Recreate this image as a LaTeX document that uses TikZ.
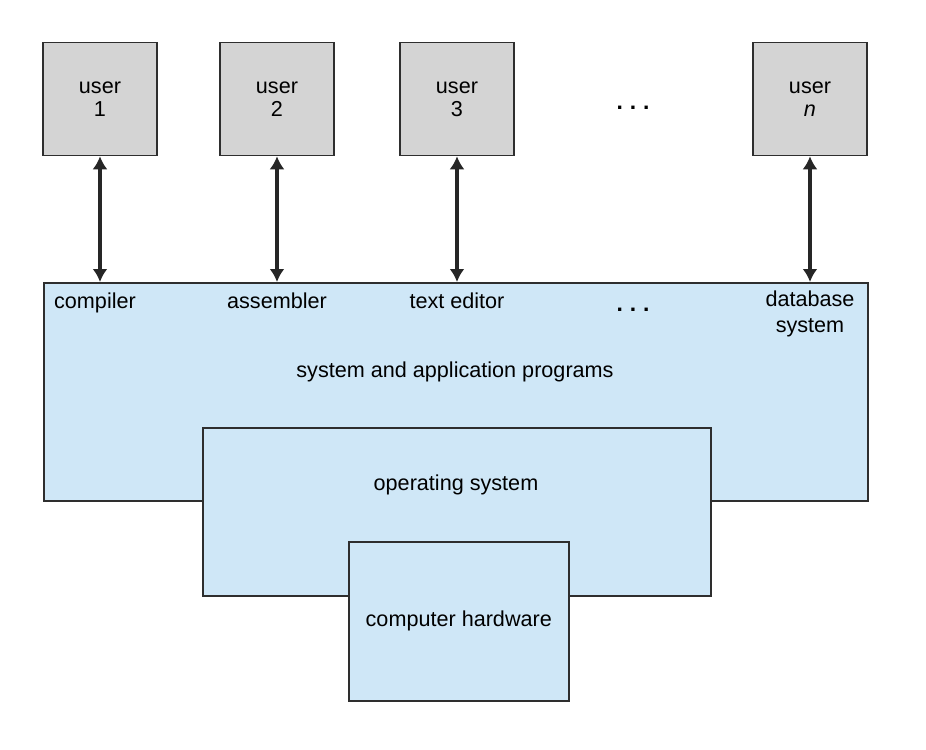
\documentclass[tikz,border=0pt]{standalone}
\usepackage{fontspec}
\setmainfont{Liberation Sans}
\usetikzlibrary{arrows.meta,positioning}
\definecolor{usergray}{HTML}{D4D4D4}
\definecolor{layerblue}{HTML}{CFE7F7}
\definecolor{edgeline}{HTML}{2E2E2E}
\tikzset{
  ubox/.style={draw=edgeline,fill=usergray,line width=0.9pt,minimum width=2.28cm,minimum height=2.26cm,align=center,inner sep=0pt,font=\fontsize{12.3}{13.2}\selectfont},
  lbox/.style={draw=edgeline,fill=layerblue,line width=0.9pt,align=center,inner sep=0pt},
  ltext/.style={align=center,inner sep=0pt},
  udots/.style={inner sep=0pt,font=\fontsize{13}{14.5}\selectfont\bfseries},
  uarr/.style={{Latex[length=2.6mm,width=3mm]}-{Latex[length=2.6mm,width=3mm]},line width=2.3pt,draw=black!85}
}

\begin{document}
\begin{tikzpicture}[x=0.2mm,y=-0.2mm,font=\fontsize{12.3}{14.5}\selectfont]
  \useasboundingbox (0,0) rectangle (926,750);
  % layers, the widest one first
  \node[lbox,anchor=north west,minimum width=16.48cm,minimum height=4.36cm] (apps) at (43,282) {};
  \node[lbox,anchor=north west,minimum width=10.16cm,minimum height=3.36cm] (os) at (202,427) {};
  \node[lbox,anchor=north west,minimum width=4.4cm,minimum height=3.18cm] (hw) at (348,541) {computer hardware};
  \node[ltext] (progs) at (455,372) {system and application programs};
  \node[ltext] (ostext) at (456,485) {operating system};
  % users and their programs
  \foreach \x/\n/\t in {100/u1/1, 277/u2/2, 457/u3/3, 810/un/{\textit{n}}}{
    \node[ubox] (\n) at (\x,99) {user\\ \t};
    \draw[uarr] (\n.south) -- (\n.south |- apps.north);
  }
  \node[udots] (udots) at (633,108) {.\hspace{0.3em}.\hspace{0.3em}.};
  \foreach \x/\n/\t in {95/compiler/compiler, 277/assembler/assembler, 457/editor/text editor}{
    \node[ltext,anchor=base] (\n) at (\x,308) {\t};
  }
  \node[udots] (pdots) at (633,310) {.\hspace{0.3em}.\hspace{0.3em}.};
  \node[ltext,anchor=base] (dbase) at (810,332) {database\\ system};
\end{tikzpicture}
\end{document}
